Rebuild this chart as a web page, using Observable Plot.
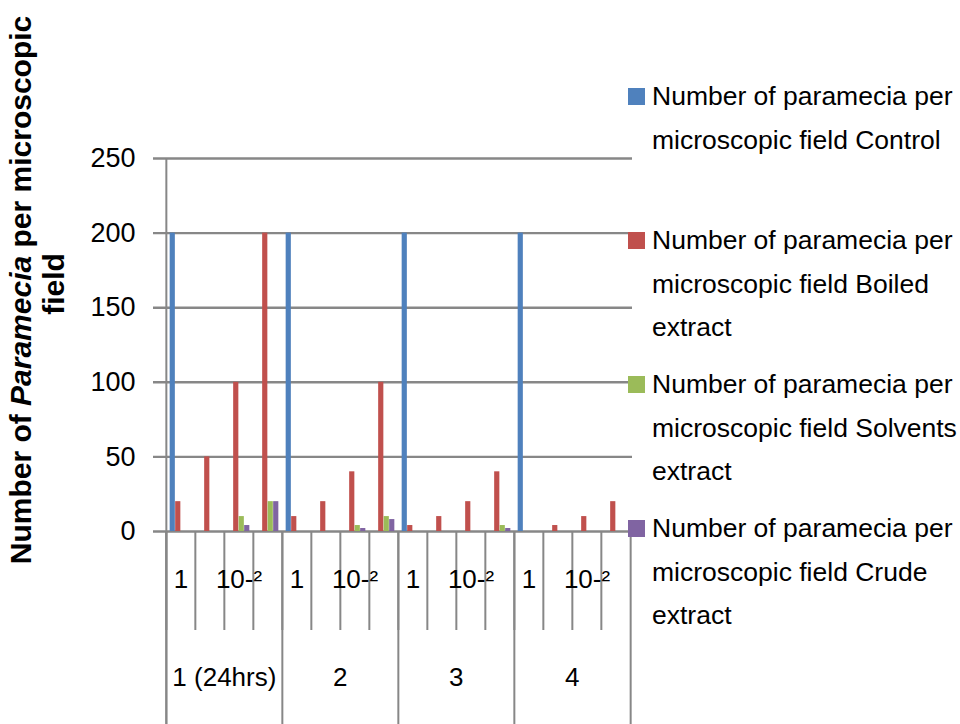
<!DOCTYPE html>
<html>
<head>
<meta charset="utf-8">
<script src="https://cdn.jsdelivr.net/npm/d3@7"></script>
<script src="https://cdn.jsdelivr.net/npm/@observablehq/plot@0.6"></script>
<style>
  body { margin: 0; background: #fff; font-family: "Liberation Sans", Arial, sans-serif; }
  #wrap { position: relative; width: 960px; height: 724px; overflow: hidden; }
  #legend { position: absolute; left: 628px; top: 75px; }
  .item { position: relative; height: 144px; }
  .sw { position: absolute; left: 0; top: 13px; width: 17px; height: 17px; }
  .lab { position: absolute; left: 24px; top: 0; font-size: 26.5px; line-height: 43.5px; white-space: nowrap; color: #000; }
</style>
</head>
<body>
<div id="wrap"></div>
<script>
// ---- data ----
const groups = ["1 (24hrs)", "2", "3", "4"];
const subLabels = ["1", "", "10-²", ""];
const seriesNames = [
  "Number of paramecia per microscopic field Control",
  "Number of paramecia per microscopic field Boiled extract",
  "Number of paramecia per microscopic field Solvents extract",
  "Number of paramecia per microscopic field Crude extract"
];
const legendLines = [
  ["Number of paramecia per", "microscopic field Control"],
  ["Number of paramecia per", "microscopic field Boiled", "extract"],
  ["Number of paramecia per", "microscopic field Solvents", "extract"],
  ["Number of paramecia per", "microscopic field Crude", "extract"]
];
const colors = ["#4F81BD", "#C0504D", "#9BBB59", "#8064A2"];
const control  = [200, 0, 0, 0,   200, 0, 0, 0,    200, 0, 0, 0,   200, 0, 0, 0];
const boiled   = [20, 50, 100, 200, 10, 20, 40, 100, 4, 10, 20, 40,  0, 4, 10, 20];
const solvents = [0, 0, 10, 20,   0, 0, 4, 10,     0, 0, 0, 4,     0, 0, 0, 0];
const crude    = [0, 0, 4, 20,    0, 0, 2, 8,      0, 0, 0, 2,     0, 0, 0, 0];
const yTicks = [0, 50, 100, 150, 200, 250];
const yTitle = ["Number of ", "Paramecia", " per microscopic"];
const yTitle2 = "field";

// ---- build table ----
const series = [control, boiled, solvents, crude];
const slots = [];
groups.forEach((g, gi) => subLabels.forEach((s, si) => {
  slots.push({key: gi + "|" + si, group: g, sub: s, si, idx: slots.length});
}));

// ---- layout ----
const W = 960, H = 724, ML = 163, MR = 328, MT = 158, MB = 193;
const PH = H - MT - MB;
const bw = (W - ML - MR) / slots.length;
const gap = bw * 0.125;
const barW = (bw - 2 * gap) / 4;
const gridColor = "#878787";

const marks = [
  Plot.ruleY(yTicks, {y: d => d, stroke: gridColor, strokeWidth: 2.4, insetLeft: -10}),
  ...series.map((vals, i) => Plot.barY(slots, {
    x: "key", y: d => vals[d.idx], fill: colors[i],
    insetLeft: gap + i * barW, insetRight: bw - gap - (i + 1) * barW
  })),
  // sub-category separators
  Plot.ruleX(slots, {x: "key", dx: -bw / 2, insetTop: PH, insetBottom: -99, stroke: gridColor, strokeWidth: 2}),
  // group separators
  Plot.ruleX(slots.filter(d => d.si === 0), {x: "key", dx: -bw / 2, insetTop: PH, insetBottom: -MB, stroke: gridColor, strokeWidth: 2}),
  // value axis line
  Plot.ruleX([slots[0]], {x: "key", dx: -bw / 2, insetBottom: -MB, stroke: gridColor, strokeWidth: 2}),
  // right edge
  Plot.ruleX([slots[slots.length - 1]], {x: "key", dx: bw / 2, insetTop: PH, insetBottom: -MB, stroke: gridColor, strokeWidth: 2}),
  Plot.text(slots, {x: "key", text: "sub", frameAnchor: "bottom", dy: 56, fontSize: 26, fill: "#000"}),
  Plot.text(slots.filter(d => d.si === 2), {x: "key", text: "group", frameAnchor: "bottom", dy: 154, dx: -bw / 2, fontSize: 26, fill: "#000"})
];

const chart = Plot.plot({
  width: W, height: H,
  marginLeft: ML, marginRight: MR, marginTop: MT, marginBottom: MB,
  style: {fontFamily: "'Liberation Sans', Arial, sans-serif", fontSize: "27px", color: "#000", background: "#fff"},
  x: {type: "band", domain: slots.map(d => d.key), padding: 0, axis: null},
  y: {domain: [0, 250], ticks: yTicks, tickSize: 0, tickPadding: 28, label: null},
  marks
});
document.getElementById("wrap").appendChild(chart);

// y-axis title (two lines, italic genus name)
const svg = d3.select(chart);
const t1 = svg.append("text")
  .attr("transform", "translate(31,290) rotate(-90)")
  .attr("text-anchor", "middle")
  .attr("font-weight", "bold").attr("font-size", 30).attr("fill", "#000");
yTitle.forEach((part, i) => t1.append("tspan").attr("font-style", i === 1 ? "italic" : "normal").text(part));
svg.append("text")
  .attr("transform", "translate(64,284) rotate(-90)")
  .attr("text-anchor", "middle")
  .attr("font-weight", "bold").attr("font-size", 30).attr("fill", "#000")
  .text(yTitle2);

// legend
const legend = d3.select("#wrap").append("div").attr("id", "legend");
legendLines.forEach((lines, i) => {
  const it = legend.append("div").attr("class", "item").attr("title", seriesNames[i]);
  it.append("div").attr("class", "sw").style("background", colors[i]);
  it.append("div").attr("class", "lab").html(lines.join("<br>"));
});
</script>
</body>
</html>
